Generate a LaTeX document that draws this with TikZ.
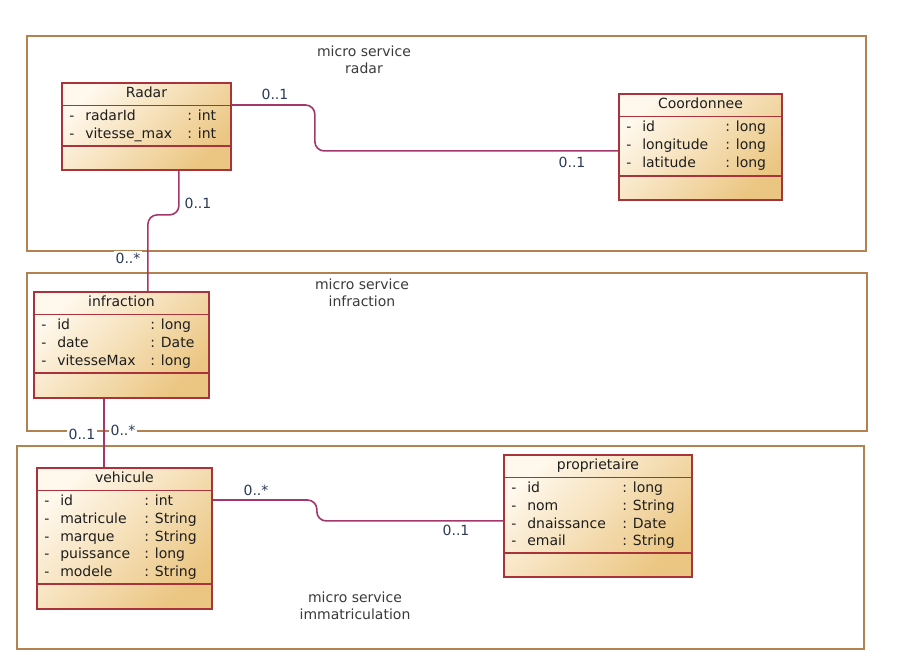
\documentclass[tikz,border=0pt]{standalone}
\usepackage{fontspec}
\setmainfont{DejaVu Sans}
\usetikzlibrary{calc}

\definecolor{frameC}{HTML}{B4824E}
\definecolor{boxC}{HTML}{A8333A}
\definecolor{clsLight}{HTML}{FFF8EC}
\definecolor{clsDark}{HTML}{EBC682}
\definecolor{connC}{HTML}{A4366C}
\definecolor{multC}{HTML}{2B3A55}
\definecolor{titleC}{HTML}{3A3A3A}
\definecolor{txtC}{HTML}{1E1E1E}

\tikzset{
  frame/.style={draw=frameC, line width=1.3pt},
  classbox/.style={draw=boxC, line width=1.4pt, top color=clsLight, bottom color=clsDark,
    shading angle=45, inner sep=0pt, anchor=north west},
  divider/.style={draw=boxC, line width=1.4pt},
  txt/.style={font=\fontsize{10.5}{12}\selectfont, text=txtC, inner sep=0pt},
  conn/.style={draw=connC, line width=1.2pt, rounded corners=7pt},
  mult/.style={txt, text=multC, fill=white, inner xsep=1.5pt, inner ysep=1pt},
  ftitle/.style={txt, text=titleC, align=center, font=\fontsize{10.5}{12.75}\selectfont}
}

% UML class: name, top-left, width, height, attribute divider offset,
% title, type column offset, list of attribute/type pairs (sizes in px)
\newcommand\umlclass[8]{%
  \node[classbox, minimum width=#3*0.75pt, minimum height=#4*0.75pt] (#1) at #2 {};
  \draw[divider] ($(#1.north west)+(0,23.5)$) -- ($(#1.north east)+(0,23.5)$);
  \draw[divider] ($(#1.north west)+(0,#5)$) -- ($(#1.north east)+(0,#5)$);
  \node[txt, anchor=mid] (#1-title) at ($(#1.north)+(0,11.5)$) {#6};
  \foreach \n/\t [count=\i from 0] in {#8} {
    \node[txt, anchor=mid west] (#1-d\i) at ($(#1.north west)+(8,35+17.7*\i)$) {-};
    \node[txt, anchor=mid west] (#1-a\i) at ($(#1.north west)+(24,35+17.7*\i)$) {\n};
    \node[txt, anchor=mid west] (#1-t\i) at ($(#1.north west)+(#7,35+17.7*\i)$) {: \t};
  }
}

\begin{document}
\begin{tikzpicture}[x=0.75pt, y=-0.75pt]
\useasboundingbox (0,0) rectangle (901,672);

% service frames
\draw[frame] (27,36) rectangle (866,251);
\draw[frame] (27,273) rectangle (867,431);
\draw[frame] (17,446) rectangle (864,649);

\node[ftitle] (t1) at (364,60) {micro service\\radar};
\node[ftitle] (t2) at (362,293) {micro service\\infraction};
\node[ftitle] (t3) at (355,606) {micro service\\immatriculation};

% classes
\umlclass{radar}{(61,82)}{169}{87}{64}{Radar}{126}{radarId/int, vitesse\_max/int}
\umlclass{coord}{(618,93)}{163}{106}{83}{Coordonnee}{107}{id/long, longitude/long, latitude/long}
\umlclass{infr}{(33,291)}{175}{106}{82}{infraction}{117}{id/long, date/Date, vitesseMax/long}
\umlclass{veh}{(36,467)}{175}{141}{117}{vehicule}{108}{id/int, matricule/String, marque/String, puissance/long, modele/String}
\umlclass{prop}{(503,454)}{188}{122}{99}{proprietaire}{119}{id/long, nom/String, dnaissance/Date, email/String}

% associations
\draw[conn] ($(radar.north east)+(0,23)$) -- ($(radar.north east)+(83,23)$) |- ($(coord.west)+(0,4)$);
\draw[conn] ($(radar.south)+(32.5,0)$) -- ++(0,44) -| ($(infr.north)+(26.5,0)$);
\draw[conn] ($(infr.south)+(-17.5,0)$) coordinate (iv) -- (iv |- veh.north);
\draw[conn] ($(veh.north east)+(0,33)$) -- ++(104,0) |- ($(prop.west)+(0,5)$);

% multiplicities
\node[mult] (m1) at (275,94) {0..1};
\node[mult] (m2) at (572,162) {0..1};
\node[mult] (m3) at (198,203) {0..1};
\node[mult] (m4) at (128,258) {0..*};
\node[mult] (m5) at (82,434) {0..1};
\node[mult] (m6) at (123,430) {0..*};
\node[mult] (m7) at (256,490) {0..*};
\node[mult] (m8) at (456,530) {0..1};
\end{tikzpicture}
\end{document}
